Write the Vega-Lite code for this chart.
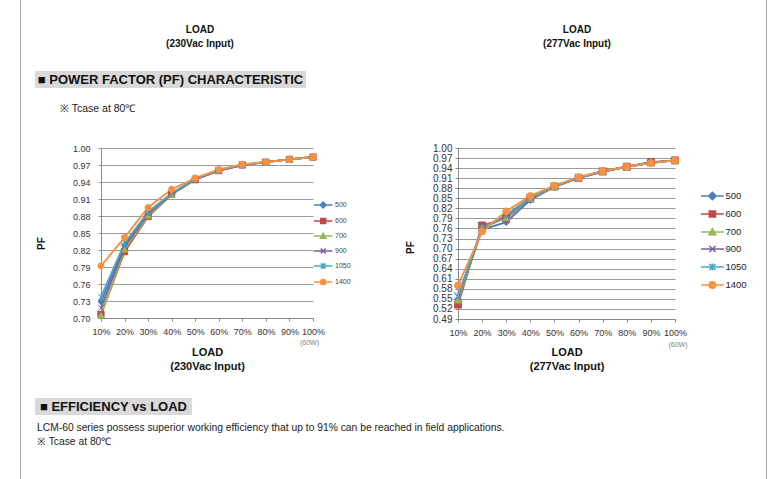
{
  "$schema": "https://vega.github.io/schema/vega-lite/v6.json",
  "padding": {"left": 20, "top": 0, "right": 0, "bottom": 0},
  "background": "#ffffff",
  "spacing": 14,
  "config": {
    "font": "Liberation Sans",
    "view": {"stroke": null},
    "axis": {"labelFont": "Liberation Sans", "titleFont": "Liberation Sans", "labelColor": "#333333", "titleColor": "#111111", "domainColor": "#8a8a8a", "tickColor": "#8a8a8a", "gridColor": "#9a9a9a", "gridWidth": 1},
    "legend": {"labelFont": "Liberation Sans"},
    "title": {"font": "Liberation Sans"}
  },
  "datasets": {
    "pf230": [
      {"series": "500", "load": "10%", "pf": 0.729}, {"series": "500", "load": "20%", "pf": 0.829}, {"series": "500", "load": "30%", "pf": 0.884}, {"series": "500", "load": "40%", "pf": 0.919}, {"series": "500", "load": "50%", "pf": 0.945}, {"series": "500", "load": "60%", "pf": 0.960}, {"series": "500", "load": "70%", "pf": 0.970}, {"series": "500", "load": "80%", "pf": 0.975}, {"series": "500", "load": "90%", "pf": 0.980}, {"series": "500", "load": "100%", "pf": 0.984},
      {"series": "600", "load": "10%", "pf": 0.706}, {"series": "600", "load": "20%", "pf": 0.817}, {"series": "600", "load": "30%", "pf": 0.879}, {"series": "600", "load": "40%", "pf": 0.918}, {"series": "600", "load": "50%", "pf": 0.944}, {"series": "600", "load": "60%", "pf": 0.960}, {"series": "600", "load": "70%", "pf": 0.970}, {"series": "600", "load": "80%", "pf": 0.975}, {"series": "600", "load": "90%", "pf": 0.980}, {"series": "600", "load": "100%", "pf": 0.984},
      {"series": "700", "load": "10%", "pf": 0.705}, {"series": "700", "load": "20%", "pf": 0.821}, {"series": "700", "load": "30%", "pf": 0.881}, {"series": "700", "load": "40%", "pf": 0.918}, {"series": "700", "load": "50%", "pf": 0.945}, {"series": "700", "load": "60%", "pf": 0.960}, {"series": "700", "load": "70%", "pf": 0.970}, {"series": "700", "load": "80%", "pf": 0.975}, {"series": "700", "load": "90%", "pf": 0.980}, {"series": "700", "load": "100%", "pf": 0.984},
      {"series": "900", "load": "10%", "pf": 0.718}, {"series": "900", "load": "20%", "pf": 0.826}, {"series": "900", "load": "30%", "pf": 0.884}, {"series": "900", "load": "40%", "pf": 0.919}, {"series": "900", "load": "50%", "pf": 0.945}, {"series": "900", "load": "60%", "pf": 0.960}, {"series": "900", "load": "70%", "pf": 0.970}, {"series": "900", "load": "80%", "pf": 0.975}, {"series": "900", "load": "90%", "pf": 0.980}, {"series": "900", "load": "100%", "pf": 0.984},
      {"series": "1050", "load": "10%", "pf": 0.737}, {"series": "1050", "load": "20%", "pf": 0.832}, {"series": "1050", "load": "30%", "pf": 0.887}, {"series": "1050", "load": "40%", "pf": 0.920}, {"series": "1050", "load": "50%", "pf": 0.946}, {"series": "1050", "load": "60%", "pf": 0.961}, {"series": "1050", "load": "70%", "pf": 0.971}, {"series": "1050", "load": "80%", "pf": 0.975}, {"series": "1050", "load": "90%", "pf": 0.980}, {"series": "1050", "load": "100%", "pf": 0.984},
      {"series": "1400", "load": "10%", "pf": 0.792}, {"series": "1400", "load": "20%", "pf": 0.842}, {"series": "1400", "load": "30%", "pf": 0.895}, {"series": "1400", "load": "40%", "pf": 0.927}, {"series": "1400", "load": "50%", "pf": 0.947}, {"series": "1400", "load": "60%", "pf": 0.962}, {"series": "1400", "load": "70%", "pf": 0.971}, {"series": "1400", "load": "80%", "pf": 0.975}, {"series": "1400", "load": "90%", "pf": 0.980}, {"series": "1400", "load": "100%", "pf": 0.984}
    ],
    "pf277": [
      {"series": "500", "load": "10%", "pf": 0.548}, {"series": "500", "load": "20%", "pf": 0.757}, {"series": "500", "load": "30%", "pf": 0.779}, {"series": "500", "load": "40%", "pf": 0.845}, {"series": "500", "load": "50%", "pf": 0.884}, {"series": "500", "load": "60%", "pf": 0.910}, {"series": "500", "load": "70%", "pf": 0.930}, {"series": "500", "load": "80%", "pf": 0.944}, {"series": "500", "load": "90%", "pf": 0.956}, {"series": "500", "load": "100%", "pf": 0.963},
      {"series": "600", "load": "10%", "pf": 0.533}, {"series": "600", "load": "20%", "pf": 0.769}, {"series": "600", "load": "30%", "pf": 0.790}, {"series": "600", "load": "40%", "pf": 0.849}, {"series": "600", "load": "50%", "pf": 0.885}, {"series": "600", "load": "60%", "pf": 0.911}, {"series": "600", "load": "70%", "pf": 0.930}, {"series": "600", "load": "80%", "pf": 0.944}, {"series": "600", "load": "90%", "pf": 0.958}, {"series": "600", "load": "100%", "pf": 0.963},
      {"series": "700", "load": "10%", "pf": 0.547}, {"series": "700", "load": "20%", "pf": 0.762}, {"series": "700", "load": "30%", "pf": 0.792}, {"series": "700", "load": "40%", "pf": 0.850}, {"series": "700", "load": "50%", "pf": 0.885}, {"series": "700", "load": "60%", "pf": 0.911}, {"series": "700", "load": "70%", "pf": 0.930}, {"series": "700", "load": "80%", "pf": 0.944}, {"series": "700", "load": "90%", "pf": 0.956}, {"series": "700", "load": "100%", "pf": 0.963},
      {"series": "900", "load": "10%", "pf": 0.556}, {"series": "900", "load": "20%", "pf": 0.761}, {"series": "900", "load": "30%", "pf": 0.797}, {"series": "900", "load": "40%", "pf": 0.851}, {"series": "900", "load": "50%", "pf": 0.886}, {"series": "900", "load": "60%", "pf": 0.911}, {"series": "900", "load": "70%", "pf": 0.930}, {"series": "900", "load": "80%", "pf": 0.944}, {"series": "900", "load": "90%", "pf": 0.956}, {"series": "900", "load": "100%", "pf": 0.963},
      {"series": "1050", "load": "10%", "pf": 0.560}, {"series": "1050", "load": "20%", "pf": 0.760}, {"series": "1050", "load": "30%", "pf": 0.800}, {"series": "1050", "load": "40%", "pf": 0.852}, {"series": "1050", "load": "50%", "pf": 0.886}, {"series": "1050", "load": "60%", "pf": 0.912}, {"series": "1050", "load": "70%", "pf": 0.931}, {"series": "1050", "load": "80%", "pf": 0.944}, {"series": "1050", "load": "90%", "pf": 0.956}, {"series": "1050", "load": "100%", "pf": 0.963},
      {"series": "1400", "load": "10%", "pf": 0.590}, {"series": "1400", "load": "20%", "pf": 0.751}, {"series": "1400", "load": "30%", "pf": 0.811}, {"series": "1400", "load": "40%", "pf": 0.857}, {"series": "1400", "load": "50%", "pf": 0.888}, {"series": "1400", "load": "60%", "pf": 0.913}, {"series": "1400", "load": "70%", "pf": 0.931}, {"series": "1400", "load": "80%", "pf": 0.944}, {"series": "1400", "load": "90%", "pf": 0.955}, {"series": "1400", "load": "100%", "pf": 0.963}
    ]
  },
  "hconcat": [
    {"width": 1, "height": 479, "view": {"fill": "#a6a6a6"}, "data": {"values": [{"border": "left"}]}, "mark": {"type": "text", "text": ""}},
    {
      "spacing": 15,
      "vconcat": [
        {
          "spacing": 0,
          "vconcat": [
            {
              "spacing": 37,
              "hconcat": [
                {"width": 330, "height": 71, "data": {"values": [{"header": "230Vac"}]}, "mark": {"type": "text", "text": ["LOAD", "(230Vac Input)"], "fontSize": 10, "fontWeight": "bold", "lineHeight": 14, "dy": -6, "color": "#111111"}},
                {"width": 350, "height": 71, "data": {"values": [{"header": "277Vac"}]}, "mark": {"type": "text", "text": ["LOAD", "(277Vac Input)"], "fontSize": 10, "fontWeight": "bold", "lineHeight": 14, "dy": -6, "color": "#111111"}}
              ]
            },
            {"width": 271, "height": 17, "view": {"fill": "#d9d9d9"}, "data": {"values": [{"section": "pf"}]}, "mark": {"type": "text", "text": "■ POWER FACTOR (PF) CHARACTERISTIC", "fontSize": 13, "fontWeight": "bold", "color": "#111111"}}
          ]
        },
        {
          "spacing": 27,
          "vconcat": [
            {
              "spacing": 65,
              "bounds": "flush",
              "hconcat": [
                {"width": 1, "height": 1, "data": {"values": [{"spacer": 1}]}, "mark": {"type": "text", "text": ""}},
                {
                  "spacing": 145,
                  "bounds": "flush",
                  "resolve": {
                    "scale": {"fill": "independent", "stroke": "independent", "shape": "independent"},
                    "legend": {"fill": "independent", "stroke": "independent", "shape": "independent"}
                  },
                  "hconcat": [
                    {
                      "width": 212,
                      "height": 170,
                      "title": {"text": "※ Tcase at 80℃", "anchor": "start", "frame": "group", "dx": -41, "offset": 30, "fontSize": 10.5, "fontWeight": "normal", "color": "#222222"},
                      "resolve": {
                        "scale": {"fill": "independent", "stroke": "independent", "shape": "independent"},
                        "legend": {"fill": "independent", "stroke": "independent", "shape": "independent"}
                      },
                      "encoding": {
                        "x": {"field": "load", "type": "ordinal", "scale": {"type": "point", "padding": 0, "domain": ["10%", "20%", "30%", "40%", "50%", "60%", "70%", "80%", "90%", "100%"]},
                          "axis": {"title": ["LOAD", "(230Vac Input)"], "titleFontSize": 11, "titleFontWeight": "bold", "titleLineHeight": 14, "titlePadding": 9.5, "labelAngle": 0, "labelFontSize": 9, "labelPadding": 6.5, "tickSize": 3, "grid": false}}
                      },
                      "layer": [
                        {
                          "data": {"name": "pf230"},
                          "mark": {"type": "line", "strokeWidth": 1.9},
                          "encoding": {
                            "y": {"field": "pf", "type": "quantitative", "scale": {"domain": [0.7, 1.0], "zero": false, "nice": false},
                              "axis": {"values": [0.7, 0.73, 0.76, 0.79, 0.82, 0.85, 0.88, 0.91, 0.94, 0.97, 1.0], "tickCount": 40, "format": ".2f", "title": "PF", "titleFontSize": 10, "titleFontWeight": "bold", "titlePadding": 26, "titleY": 95, "labelFontSize": 9, "labelPadding": 8, "tickSize": 3}},
                            "stroke": {"field": "series", "type": "nominal", "scale": {"domain": ["500", "600", "700", "900", "1050", "1400"], "range": ["#4A7EBB", "#BE4B48", "#98B954", "#7D60A0", "#46AAC5", "#F69240"]}, "legend": null}
                          }
                        },
                        {
                          "data": {"name": "pf230"},
                          "mark": {"type": "point", "filled": true, "size": 38, "opacity": 1, "strokeWidth": 1},
                          "encoding": {
                            "y": {"field": "pf", "type": "quantitative"},
                            "stroke": {"field": "series", "type": "nominal", "scale": {"domain": ["500", "600", "700", "900", "1050", "1400"], "range": ["#4A7EBB", "#BE4B48", "#98B954", "#7D60A0", "#46AAC5", "#F69240"]}, "legend": null},
                            "fill": {"field": "series", "type": "nominal", "scale": {"domain": ["500", "600", "700", "900", "1050", "1400"], "range": ["#4A7EBB", "#BE4B48", "#98B954", "#7D60A0", "#46AAC5", "#F69240"]}, "legend": null},
                            "shape": {"field": "series", "type": "nominal", "scale": {"domain": ["500", "600", "700", "900", "1050", "1400"], "range": ["diamond", "square", "triangle-up", "M-1,-1L1,1M-1,1L1,-1", "M-1,-1L1,1M-1,1L1,-1M0,-1.25V1.25", "circle"]}, "legend": null}
                          }
                        },
                        {
                          "data": {"name": "pf230"},
                          "mark": {"type": "point", "filled": true, "size": 0, "opacity": 1, "strokeWidth": 1.5},
                          "encoding": {
                            "y": {"field": "pf", "type": "quantitative"},
                            "stroke": {"field": "series", "type": "nominal", "scale": {"domain": ["500", "600", "700", "900", "1050", "1400"], "range": ["#4A7EBB", "#BE4B48", "#98B954", "#7D60A0", "#46AAC5", "#F69240"]}},
                            "shape": {"field": "series", "type": "nominal", "scale": {"domain": ["500", "600", "700", "900", "1050", "1400"], "range": [
                              "M-1.42,0H1.42M0,-0.45L0.45,0L0,0.45L-0.45,0Z",
                              "M-1.42,0H1.42M-0.38,-0.38H0.38V0.38H-0.38Z",
                              "M-1.42,0H1.42M0,-0.42L0.42,0.34H-0.42Z",
                              "M-1.42,0H1.42M-0.38,-0.38L0.38,0.38M-0.38,0.38L0.38,-0.38",
                              "M-1.42,0H1.42M-0.38,-0.38L0.38,0.38M-0.38,0.38L0.38,-0.38M0,-0.45V0.45",
                              "M-1.42,0H1.42M0.4,0A0.4,0.4,0,1,1,-0.4,0A0.4,0.4,0,1,1,0.4,0Z"]}},
                            "fill": {"field": "series", "type": "nominal", "scale": {"domain": ["500", "600", "700", "900", "1050", "1400"], "range": ["#4A7EBB", "#BE4B48", "#98B954", "#7D60A0", "#46AAC5", "#F69240"]},
                              "legend": {"orient": "none", "legendX": 214.7, "legendY": 49.5, "title": null, "padding": 0, "symbolSize": 169, "symbolStrokeWidth": 1.5, "symbolOpacity": 1, "rowPadding": 2, "labelOffset": 4.3, "labelFontSize": 7, "labelColor": "#444444"}}
                          }
                        },
                        {
                          "data": {"values": [{"load": "100%", "note": "(60W)"}]},
                          "mark": {"type": "text", "fontSize": 7, "color": "#808080", "dx": -3.5},
                          "encoding": {"y": {"datum": 0.656}, "text": {"field": "note"}}
                        }
                      ]
                    },
                    {
                      "width": 217,
                      "height": 171,
                      "resolve": {
                        "scale": {"fill": "independent", "stroke": "independent", "shape": "independent"},
                        "legend": {"fill": "independent", "stroke": "independent", "shape": "independent"}
                      },
                      "encoding": {
                        "x": {"field": "load", "type": "ordinal", "scale": {"type": "point", "padding": 0, "domain": ["10%", "20%", "30%", "40%", "50%", "60%", "70%", "80%", "90%", "100%"]},
                          "axis": {"title": ["LOAD", "(277Vac Input)"], "titleFontSize": 11, "titleFontWeight": "bold", "titleLineHeight": 14, "titlePadding": 9, "labelAngle": 0, "labelFontSize": 9, "labelPadding": 6, "tickSize": 3, "grid": false}}
                      },
                      "layer": [
                        {
                          "data": {"name": "pf277"},
                          "mark": {"type": "line", "strokeWidth": 1.9},
                          "encoding": {
                            "y": {"field": "pf", "type": "quantitative", "scale": {"domain": [0.49, 1.0], "zero": false, "nice": false},
                              "axis": {"values": [0.49, 0.52, 0.55, 0.58, 0.61, 0.64, 0.67, 0.7, 0.73, 0.76, 0.79, 0.82, 0.85, 0.88, 0.91, 0.94, 0.97, 1.0], "tickCount": 40, "format": ".2f", "title": "PF", "titleFontSize": 10, "titleFontWeight": "bold", "titlePadding": 17, "titleY": 99, "labelFontSize": 10, "labelPadding": 3, "tickSize": 3}},
                            "stroke": {"field": "series", "type": "nominal", "scale": {"domain": ["500", "600", "700", "900", "1050", "1400"], "range": ["#4A7EBB", "#BE4B48", "#98B954", "#7D60A0", "#46AAC5", "#F69240"]}, "legend": null}
                          }
                        },
                        {
                          "data": {"name": "pf277"},
                          "mark": {"type": "point", "filled": true, "size": 48, "opacity": 1, "strokeWidth": 1},
                          "encoding": {
                            "y": {"field": "pf", "type": "quantitative"},
                            "stroke": {"field": "series", "type": "nominal", "scale": {"domain": ["500", "600", "700", "900", "1050", "1400"], "range": ["#4A7EBB", "#BE4B48", "#98B954", "#7D60A0", "#46AAC5", "#F69240"]}, "legend": null},
                            "fill": {"field": "series", "type": "nominal", "scale": {"domain": ["500", "600", "700", "900", "1050", "1400"], "range": ["#4A7EBB", "#BE4B48", "#98B954", "#7D60A0", "#46AAC5", "#F69240"]}, "legend": null},
                            "shape": {"field": "series", "type": "nominal", "scale": {"domain": ["500", "600", "700", "900", "1050", "1400"], "range": ["diamond", "square", "triangle-up", "M-1,-1L1,1M-1,1L1,-1", "M-1,-1L1,1M-1,1L1,-1M0,-1.25V1.25", "circle"]}, "legend": null}
                          }
                        },
                        {
                          "data": {"name": "pf277"},
                          "mark": {"type": "point", "filled": true, "size": 0, "opacity": 1, "strokeWidth": 1.6},
                          "encoding": {
                            "y": {"field": "pf", "type": "quantitative"},
                            "stroke": {"field": "series", "type": "nominal", "scale": {"domain": ["500", "600", "700", "900", "1050", "1400"], "range": ["#4A7EBB", "#BE4B48", "#98B954", "#7D60A0", "#46AAC5", "#F69240"]}},
                            "shape": {"field": "series", "type": "nominal", "scale": {"domain": ["500", "600", "700", "900", "1050", "1400"], "range": [
                              "M-1.42,0H1.42M0,-0.45L0.45,0L0,0.45L-0.45,0Z",
                              "M-1.42,0H1.42M-0.38,-0.38H0.38V0.38H-0.38Z",
                              "M-1.42,0H1.42M0,-0.42L0.42,0.34H-0.42Z",
                              "M-1.42,0H1.42M-0.38,-0.38L0.38,0.38M-0.38,0.38L0.38,-0.38",
                              "M-1.42,0H1.42M-0.38,-0.38L0.38,0.38M-0.38,0.38L0.38,-0.38M0,-0.45V0.45",
                              "M-1.42,0H1.42M0.4,0A0.4,0.4,0,1,1,-0.4,0A0.4,0.4,0,1,1,0.4,0Z"]}},
                            "fill": {"field": "series", "type": "nominal", "scale": {"domain": ["500", "600", "700", "900", "1050", "1400"], "range": ["#4A7EBB", "#BE4B48", "#98B954", "#7D60A0", "#46AAC5", "#F69240"]},
                              "legend": {"orient": "none", "legendX": 245.4, "legendY": 39, "title": null, "padding": 0, "symbolSize": 256, "symbolStrokeWidth": 1.6, "symbolOpacity": 1, "rowPadding": 2, "labelOffset": 4, "labelFontSize": 9.5, "labelColor": "#222222"}}
                          }
                        },
                        {
                          "data": {"values": [{"load": "100%", "note": "(60W)"}]},
                          "mark": {"type": "text", "fontSize": 7, "color": "#808080", "dx": 3},
                          "encoding": {"y": {"datum": 0.4125}, "text": {"field": "note"}}
                        }
                      ]
                    }
                  ]
                }
              ]
            },
            {
              "width": 157,
              "height": 17,
              "view": {"fill": "#d9d9d9"},
              "data": {"values": [{"section": "eff"}]},
              "mark": {"type": "text", "text": "■ EFFICIENCY vs LOAD", "fontSize": 13, "fontWeight": "bold", "color": "#111111"},
              "title": {"text": ["LCM-60 series possess superior working efficiency that up to 91% can be reached in field applications.", "※ Tcase at 80℃"], "orient": "bottom", "anchor": "start", "frame": "group", "offset": 8, "dx": 2, "fontSize": 10.3, "fontWeight": "normal", "lineHeight": 14, "color": "#222222"}
            }
          ]
        }
      ]
    },
    {"width": 1, "height": 479, "view": {"fill": "#a6a6a6"}, "data": {"values": [{"border": "right"}]}, "mark": {"type": "text", "text": ""}}
  ]
}
